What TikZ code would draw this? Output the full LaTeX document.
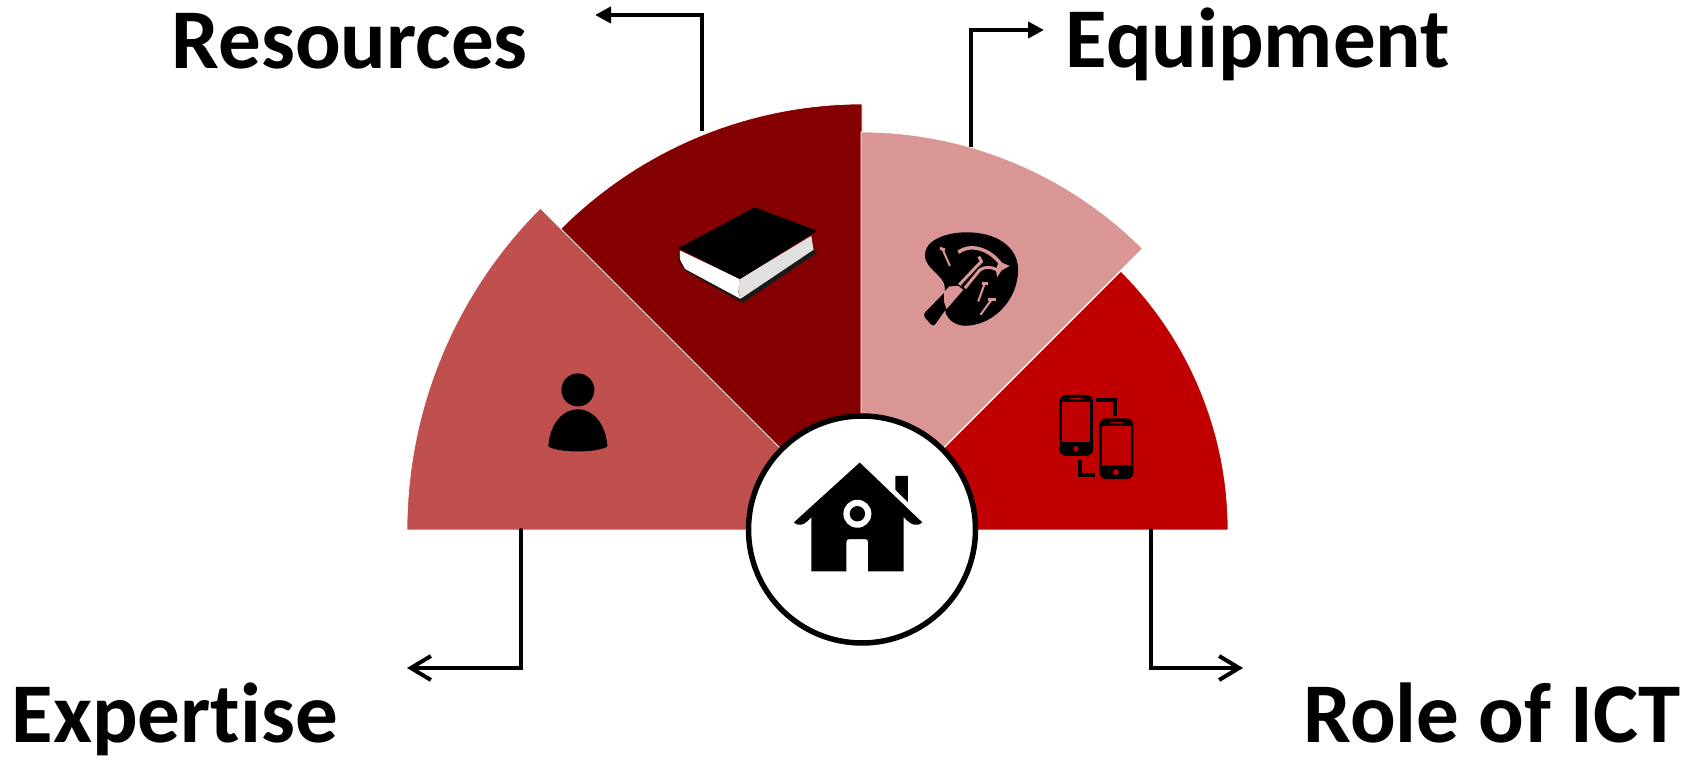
\documentclass[tikz,border=0pt]{standalone}
\usepackage{fontspec}
\setmainfont[Ligatures=NoCommon]{Carlito}
\usetikzlibrary{arrows.meta}
\definecolor{expertcol}{HTML}{C0504D}
\definecolor{rescol}{HTML}{850000}
\definecolor{equipcol}{HTML}{D99694}
\definecolor{ictcol}{HTML}{C00000}
\tikzset{
  sector/.style={draw=white, line width=0.2pt},
  title/.style={anchor=base west, inner sep=0pt, font=\fontsize{24.2pt}{28pt}\selectfont\bfseries},
  leadup/.style={line width=0.04cm, -{Triangle[length=0.16cm,width=0.16cm]}},
  leaddown/.style={line width=0.04cm, line cap=round, -{Straight Barb[length=0.2cm,width=0.24cm,line width=0.04cm]}},
  icon/.style={x=0.003333cm, y=-0.003333cm},
}
\begin{document}
\begin{tikzpicture}
    \useasboundingbox (0,0) rectangle (17.03,7.59);

    % four sectors
    \filldraw[sector, fill=expertcol] (8.62,2.29) -- +(180:4.55) arc (180:135:4.55) -- cycle;
    \filldraw[sector, fill=rescol] (8.62,2.29) -- +(135:4.26) arc (135:90:4.26) -- cycle;
    \filldraw[sector, fill=ictcol] (8.62,2.29) -- +(45:3.66) arc (45:0:3.66) -- cycle;
    \filldraw[sector, fill=equipcol] (8.61,2.29) -- +(90:3.98) arc (90:45:3.98) -- cycle;

    % middle
    \node[circle, draw=black, fill=white, line width=0.055cm, minimum size=2.27cm, inner sep=0pt] (hub) at (8.62,2.295) {};

    % leaders
    \coordinate (resfoot) at (7.02,6.28);
    \coordinate (restip) at (5.95,7.44);
    \coordinate (equipfoot) at (9.71,6.12);
    \coordinate (equiptip) at (10.44,7.29);
    \coordinate (expfoot) at (5.21,2.29);
    \coordinate (exptip) at (4.07,0.91);
    \coordinate (ictfoot) at (11.51,2.29);
    \coordinate (icttip) at (12.43,0.91);
    \draw[leadup] (resfoot) |- (restip);
    \draw[leadup] (equipfoot) |- (equiptip);
    \draw[leaddown] (expfoot) |- (exptip);
    \draw[leaddown] (ictfoot) |- (icttip);

    \node[title] (resources) at (1.71,6.90) {Resources};
    \node[title] (equipment) at (10.65,6.91) {Equipment};
    \node[title] (expertise) at (0.11,0.17) {Expertise};
    \node[title] (roleict) at (13.03,0.17) {Role of ICT};

    % person
    \begin{scope}[shift={(5.20,3.99)}, icon]
        \fill (174,90) circle (0.165cm);
        \fill (85,260) .. controls (90,190) and (130,148) .. (174,148) .. controls (218,148) and (258,190) .. (263,260) .. controls (230,280) and (118,280) .. (85,260) -- cycle;
    \end{scope}

    % book
    \begin{scope}[shift={(6.40,5.79)}, icon]
        \fill[white] (120,212) -- (300,298) -- (295,335) -- (302,358) -- (135,268) -- (120,240) -- cycle;
        \fill[black!12] (300,298) -- (515,168) -- (522,212) -- (302,358) -- (295,330) -- cycle;
        \fill[black!90] (113,205) -- (118,245) -- (135,272) -- (308,370) -- (533,218) -- (522,210) -- (302,358) -- (135,268) -- (120,240) -- cycle;
        \fill (115,205) -- (345,82) -- (532,153) -- (300,298) -- cycle;
    \end{scope}

    % hammer and nails
    \begin{scope}[shift={(9.00,5.39)}, icon]
        \fill (135,205) .. controls (135,165) and (75,150) .. (75,105) .. controls (75,60) and (140,37) .. (200,37) .. controls (290,37) and (355,80) .. (355,150) .. controls (355,240) and (280,318) .. (195,318) .. controls (165,318) and (135,295) .. (135,265) -- cycle;
        \fill[rounded corners=1pt] (68,285) -- (140,212) -- (140,265) -- (100,322) -- cycle;
        \fill[equipcol] (133,215) -- (148,200) -- (175,198) -- (190,210) -- (140,268) -- (132,245) -- cycle;
        \draw[equipcol, line width=0.035cm] (175,97) .. controls (210,70) and (270,85) .. (305,135);
        \fill[equipcol] (298,125) -- (330,138) -- (305,152) -- (292,172) -- (288,148) -- cycle;
        \draw[equipcol, line width=0.03cm] (237,110) -- (245,125) -- (225,145) -- (178,195);
        \draw[equipcol, line width=0.03cm] (195,205) -- (240,150) .. controls (255,140) and (275,140) .. (292,150);
        \draw[equipcol, line width=0.03cm] (120,85) -- (135,90);
        \draw[equipcol, line width=0.02cm] (128,88) -- (150,138);
        \draw[equipcol, line width=0.03cm] (245,190) -- (265,190);
        \draw[equipcol, line width=0.02cm] (255,190) -- (235,245);
        \draw[equipcol, line width=0.03cm] (265,240) -- (290,240);
        \draw[equipcol, line width=0.02cm] (275,240) -- (242,285);
    \end{scope}

    % phones
    \begin{scope}[shift={(10.40,3.74)}, icon]
        \fill[rounded corners=2pt] (58,30) rectangle (160,213);
        \fill[ictcol] (66,52) rectangle (150,170);
        \fill[ictcol] (108,192) circle (0.027cm);
        \draw[ictcol, line width=0.008cm] (90,41) -- (130,41);
        \fill[rounded corners=2pt] (178,100) rectangle (281,283);
        \fill[ictcol] (186,123) rectangle (273,240);
        \fill[ictcol] (228,262) circle (0.03cm);
        \draw[ictcol, line width=0.008cm] (210,111) -- (250,111);
        \draw[line width=0.045cm] (168,45) -- (225,45) -- (225,92);
        \draw[line width=0.045cm] (120,225) -- (120,270) -- (165,270);
    \end{scope}

    % house
    \begin{scope}[shift={(7.30,3.59)}, icon]
        \fill (390,188) -- (578,368) .. controls (565,382) and (545,378) .. (522,352) -- (522,515) -- (415,515) -- (415,430) .. controls (415,420) and (412,418) .. (405,418) -- (360,418) .. controls (353,418) and (350,420) .. (350,430) -- (350,515) -- (245,515) -- (245,352) .. controls (222,378) and (205,382) .. (192,368) -- cycle;
        \fill (497,228) -- (535,228) -- (535,307) -- (497,270) -- cycle;
        \fill[white] (383,342) circle (0.14cm);
        \fill (383,342) circle (0.077cm);
    \end{scope}
\end{tikzpicture}
\end{document}
